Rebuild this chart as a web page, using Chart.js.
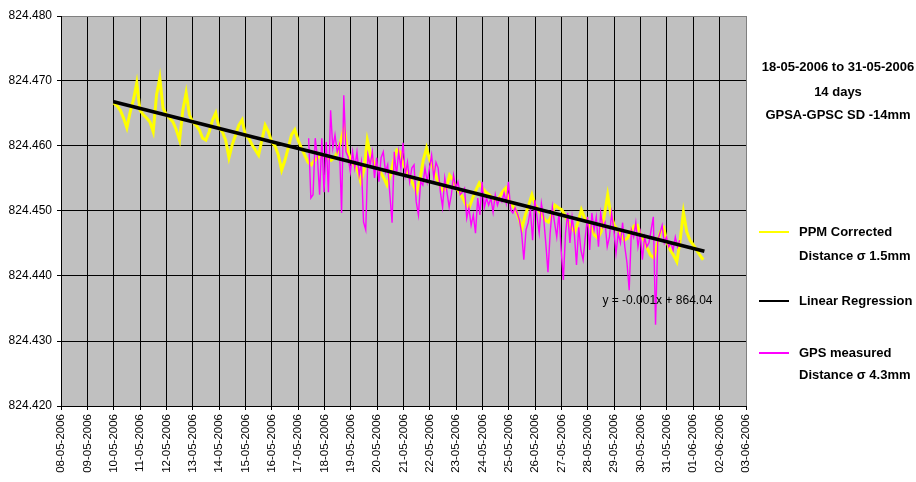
<!DOCTYPE html>
<html>
<head>
<meta charset="utf-8">
<script src="https://cdn.jsdelivr.net/npm/chart.js@4/dist/chart.umd.min.js"></script>
<style>
  body { margin: 0; background: #fff; }
  #wrap { position: relative; width: 916px; height: 482px; font-family: Arial, "Liberation Sans", sans-serif; }
  #grafico { position: absolute; left: 0; top: 0; }
  .txt { position: absolute; font-weight: bold; font-size: 13px; line-height: 20px; white-space: nowrap; color: #000; }
  .titulo { left: 752px; width: 172px; text-align: center; }
  .amostra { position: absolute; left: 759px; width: 30px; height: 2px; }
</style>
</head>
<body>
<div id="wrap">
  <canvas id="grafico" width="916" height="482"></canvas>
  <div class="txt titulo" style="top:57px">18-05-2006 to 31-05-2006</div>
  <div class="txt titulo" style="top:82px">14 days</div>
  <div class="txt titulo" style="top:105px">GPSA-GPSC SD -14mm</div>

  <div class="amostra" style="top:231px;background:#ffff00"></div>
  <div class="txt" style="left:799px;top:222px">PPM Corrected</div>
  <div class="txt" style="left:799px;top:246px">Distance σ 1.5mm</div>

  <div class="amostra" style="top:300px;background:#000"></div>
  <div class="txt" style="left:799px;top:291px">Linear Regression</div>

  <div class="amostra" style="top:352px;background:#ff00ff"></div>
  <div class="txt" style="left:799px;top:343px">GPS measured</div>
  <div class="txt" style="left:799px;top:365px">Distance σ 4.3mm</div>
</div>
<script>
// eixo x: dias contados a partir de 08-05-2006
const dayLabels = [
  '08-05-2006','09-05-2006','10-05-2006','11-05-2006','12-05-2006','13-05-2006','14-05-2006',
  '15-05-2006','16-05-2006','17-05-2006','18-05-2006','19-05-2006','20-05-2006','21-05-2006',
  '22-05-2006','23-05-2006','24-05-2006','25-05-2006','26-05-2006','27-05-2006','28-05-2006',
  '29-05-2006','30-05-2006','31-05-2006','01-06-2006','02-06-2006','03-06-2006'
];
const yTicks = [824.420, 824.430, 824.440, 824.450, 824.460, 824.470, 824.480];

// PPM corrected distance, uma leitura a cada 3 horas a partir de 10-05 00:00
const ppmStartDay = 2;
const ppmStepDay = 0.125;
const ppmValues = [
  824.4666, 824.4662, 824.4655, 824.4643, 824.4628, 824.4652, 824.4671, 824.4697,
  824.4655, 824.4648, 824.4643, 824.4637, 824.4622, 824.4678, 824.4705, 824.4658,
  824.4648, 824.4643, 824.4637, 824.4625, 824.4609, 824.4655, 824.4682, 824.4648,
  824.4637, 824.4632, 824.4625, 824.4612, 824.4609, 824.4622, 824.4640, 824.4651,
  824.4628, 824.4622, 824.4609, 824.4582, 824.4602, 824.4617, 824.4632, 824.4640,
  824.4617, 824.4612, 824.4602, 824.4594, 824.4586, 824.4609, 824.4632, 824.4622,
  824.4606, 824.4600, 824.4586, 824.4563, 824.4578, 824.4597, 824.4617, 824.4625,
  824.4609, 824.4597, 824.4586, 824.4575, 824.4571, 824.4578, 824.4582, 824.4586,
  824.4586, 824.4582, 824.4578, 824.4582, 824.4591, 824.4609, 824.4628, 824.4594,
  824.4578, 824.4571, 824.4563, 824.4545, 824.4563, 824.4609, 824.4586, 824.4575,
  824.4566, 824.4560, 824.4551, 824.4540, 824.4555, 824.4578, 824.4594, 824.4591,
  824.4571, 824.4560, 824.4551, 824.4540, 824.4529, 824.4548, 824.4578, 824.4597,
  824.4578, 824.4566, 824.4551, 824.4540, 824.4532, 824.4535, 824.4555, 824.4548,
  824.4535, 824.4529, 824.4520, 824.4509, 824.4506, 824.4520, 824.4532, 824.4543,
  824.4535, 824.4529, 824.4525, 824.4520, 824.4517, 824.4520, 824.4529, 824.4535,
  824.4517, 824.4509, 824.4502, 824.4489, 824.4474, 824.4494, 824.4509, 824.4525,
  824.4509, 824.4502, 824.4494, 824.4486, 824.4483, 824.4494, 824.4509, 824.4505,
  824.4502, 824.4494, 824.4483, 824.4474, 824.4468, 824.4483, 824.4502, 824.4489,
  824.4483, 824.4474, 824.4463, 824.4458, 824.4468, 824.4494, 824.4525, 824.4494,
  824.4478, 824.4471, 824.4463, 824.4455, 824.4458, 824.4468, 824.4477, 824.4478,
  824.4463, 824.4455, 824.4443, 824.4432, 824.4428, 824.4448, 824.4468, 824.4474,
  824.4452, 824.4440, 824.4432, 824.4422, 824.4455, 824.4498, 824.4468, 824.4455,
  824.4448, 824.4440, 824.4432, 824.4425
];

// GPS measured distance, uma leitura a cada 2 horas
const gpsStartDay = 9.4;
const gpsStepDay = 1 / 12;
const gpsValues = [
  824.4612, 824.4520, 824.4525, 824.4612, 824.4582, 824.4525, 824.4612, 824.4529, 824.4606, 824.4529,
  824.4655, 824.4597, 824.4617, 824.4591, 824.4602, 824.4497, 824.4678, 824.4591, 824.4583, 824.4560,
  824.4591, 824.4566, 824.4591, 824.4555, 824.4575, 824.4483, 824.4471, 824.4586, 824.4571, 824.4591,
  824.4551, 824.4582, 824.4545, 824.4582, 824.4591, 824.4560, 824.4571, 824.4525, 824.4482, 824.4591,
  824.4555, 824.4591, 824.4566, 824.4605,
  824.4555, 824.4575, 824.4545, 824.4566, 824.4571, 824.4514, 824.4494, 824.4545, 824.4540, 824.4566,
  824.4545, 824.4566, 824.4586, 824.4551, 824.4575, 824.4566, 824.4529, 824.4506, 824.4551, 824.4529,
  824.4506, 824.4525, 824.4555, 824.4535, 824.4545, 824.4525, 824.4529, 824.4535, 824.4489, 824.4505,
  824.4478, 824.4494, 824.4466, 824.4520, 824.4494, 824.4545, 824.4505, 824.4520, 824.4509, 824.4520,
  824.4498, 824.4525, 824.4509, 824.4520, 824.4514,
  824.4528, 824.4512, 824.4545, 824.4502, 824.4497, 824.4505, 824.4497, 824.4486, 824.4466, 824.4425,
  824.4471, 824.4482, 824.4502, 824.4455, 824.4517, 824.4491, 824.4466, 824.4512, 824.4491, 824.4451,
  824.4406, 824.4466, 824.4506, 824.4482, 824.4460, 824.4497, 824.4440, 824.4394, 824.4466, 824.4497,
  824.4451, 824.4491, 824.4466, 824.4417, 824.4475, 824.4440, 824.4425, 824.4460, 824.4491, 824.4440,
  824.4497, 824.4471, 824.4491, 824.4445, 824.4497, 824.4475,
  824.4482, 824.4445, 824.4460, 824.4497, 824.4471, 824.4435, 824.4466, 824.4451, 824.4482, 824.4445,
  824.4420, 824.4378, 824.4471, 824.4460, 824.4482, 824.4445, 824.4466, 824.4425, 824.4460, 824.4445,
  824.4451, 824.4471, 824.4491, 824.4325, 824.4455, 824.4466, 824.4478, 824.4451, 824.4460, 824.4445,
  824.4451, 824.4440, 824.4460, 824.4445, 824.4455
];

// regressão linear (extremos)
const regDays = [2, 24.42];
const regValues = [824.4668, 824.4438];

const equationText = 'y = -0.001x + 864.04';
const equationDay = 20.55;
const equationValue = 824.4362;

const ppmPoints = ppmValues.map((v, i) => ({ x: ppmStartDay + i * ppmStepDay, y: v }));
const gpsPoints = gpsValues.map((v, i) => ({ x: gpsStartDay + i * gpsStepDay, y: v }));
const regPoints = regDays.map((d, i) => ({ x: d, y: regValues[i] }));

const fonte = 'Arial, "Liberation Sans", sans-serif';

const fundoPlot = {
  id: 'fundoPlot',
  beforeDraw(chart) {
    const a = chart.chartArea, ctx = chart.ctx;
    ctx.save();
    ctx.fillStyle = '#c0c0c0';
    ctx.fillRect(a.left, a.top, a.right - a.left, a.bottom - a.top);
    ctx.restore();
  },
  afterDatasetsDraw(chart) {
    const ctx = chart.ctx;
    const x = chart.scales.x.getPixelForValue(equationDay);
    const y = chart.scales.y.getPixelForValue(equationValue);
    ctx.save();
    ctx.font = '12px ' + fonte;
    ctx.fillStyle = '#000';
    ctx.textBaseline = 'middle';
    ctx.fillText(equationText, x, y);
    ctx.restore();
  }
};

const ctx = document.getElementById('grafico').getContext('2d');
const chart = new Chart(ctx, {
  type: 'line',
  data: {
    datasets: [
      { label: 'PPM Corrected Distance σ 1.5mm', data: ppmPoints, borderColor: '#ffff00', borderWidth: 3, order: 2 },
      { label: 'GPS measured Distance σ 4.3mm', data: gpsPoints, borderColor: '#ff00ff', borderWidth: 1.4, order: 1 },
      { label: 'Linear Regression', data: regPoints, borderColor: '#000000', borderWidth: 3.5, order: 0 }
    ]
  },
  options: {
    responsive: false,
    animation: false,
    devicePixelRatio: 1,
    elements: { point: { radius: 0 }, line: { tension: 0 } },
    layout: { padding: { left: 0, top: 16, right: 170, bottom: 0 } },
    plugins: { legend: { display: false }, tooltip: { enabled: false } },
    scales: {
      x: {
        type: 'linear',
        min: 0,
        max: dayLabels.length - 1,
        afterFit: s => { s.height = 76; },
        afterBuildTicks: s => { s.ticks = dayLabels.map((l, i) => ({ value: i })); },
        ticks: {
          autoSkip: false,
          minRotation: 90,
          maxRotation: 90,
          padding: 4,
          color: '#000',
          font: { family: fonte, size: 11.5 },
          callback: v => dayLabels[v]
        },
        grid: {
          color: c => (c.index === dayLabels.length - 1 ? '#808080' : '#000'),
          lineWidth: 1,
          tickLength: 4,
          tickColor: '#000'
        },
        border: { color: '#000', width: 1 }
      },
      y: {
        min: yTicks[0],
        max: yTicks[yTicks.length - 1],
        afterFit: s => { s.width = 61; },
        afterBuildTicks: s => { s.ticks = yTicks.map(v => ({ value: v })); },
        ticks: {
          padding: 5,
          color: '#000',
          font: { family: fonte, size: 12 },
          callback: v => Number(v).toFixed(3)
        },
        grid: {
          color: c => (c.index === yTicks.length - 1 ? '#808080' : '#000'),
          lineWidth: 1,
          tickLength: 4,
          tickColor: '#000'
        },
        border: { color: '#000', width: 1 }
      }
    }
  },
  plugins: [fundoPlot]
});
</script>
</body>
</html>
